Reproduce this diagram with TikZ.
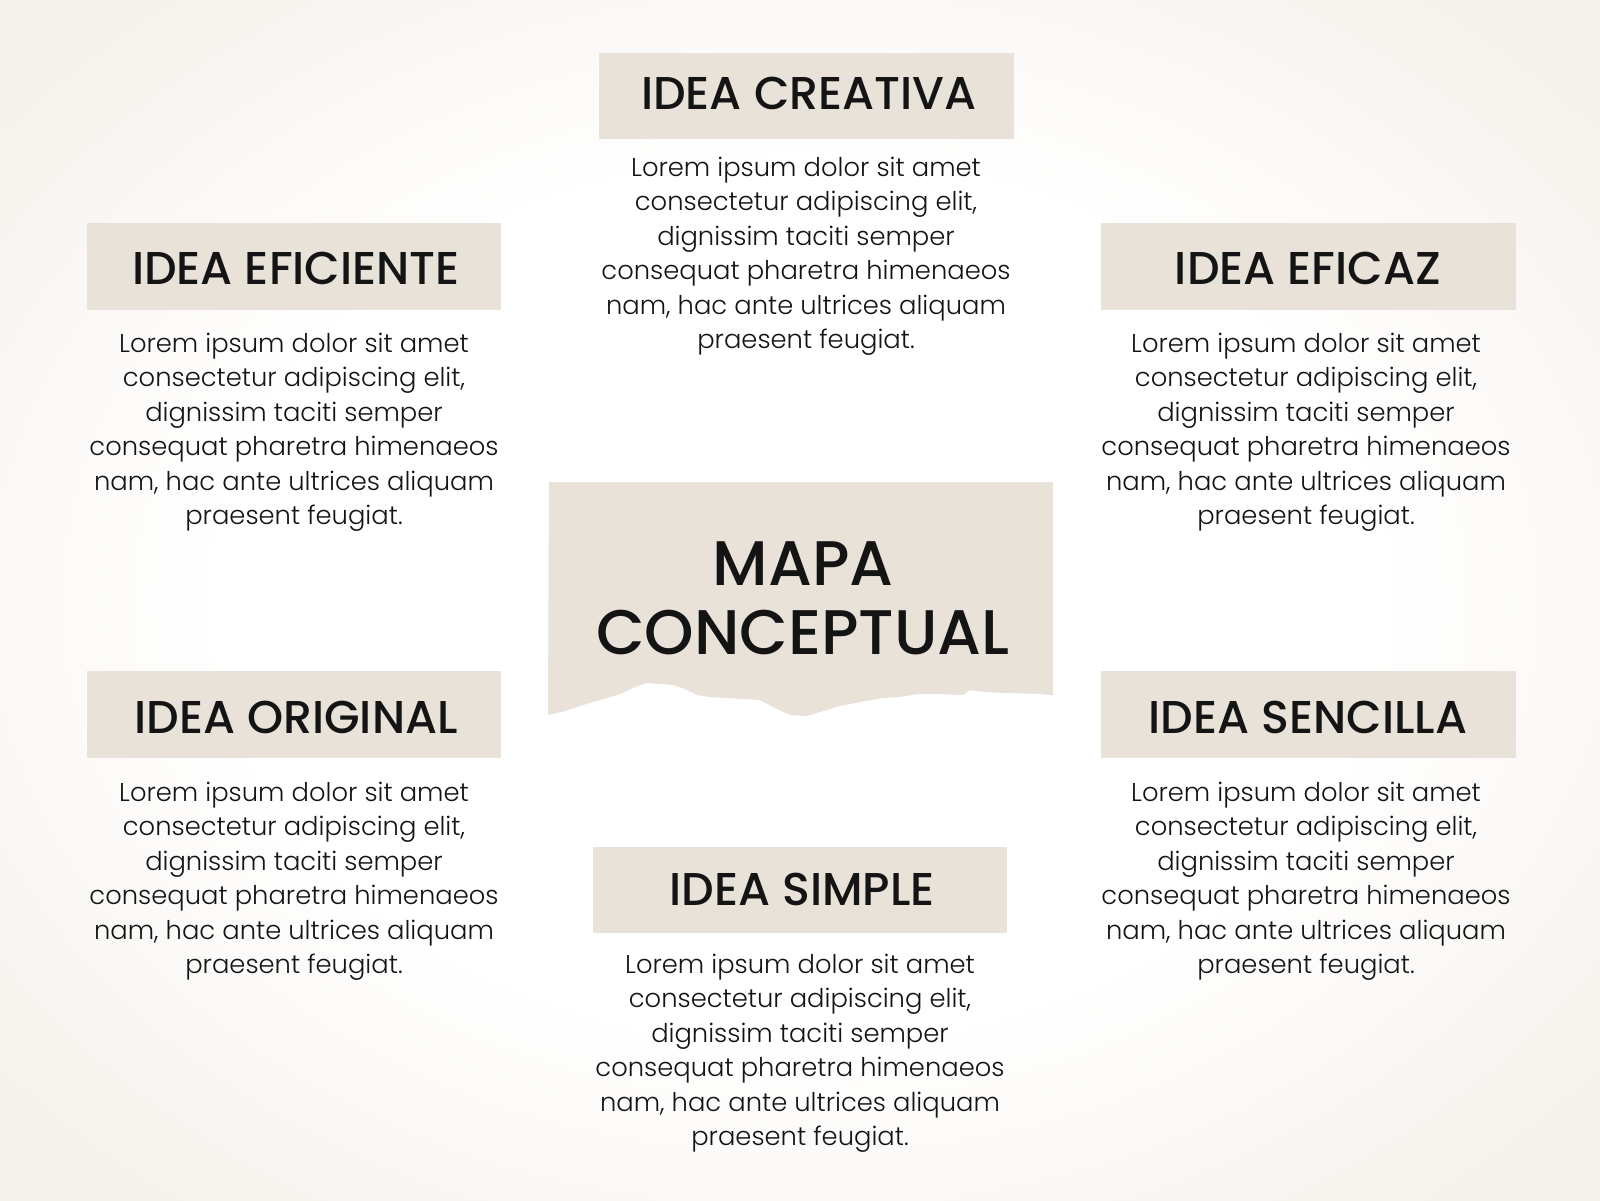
\documentclass[tikz,border=0pt]{standalone}
\usepackage{fontspec}
\setmainfont{Poppins}[UprightFont=* Light]
\newfontfamily\headfont{Poppins}[UprightFont=* Medium]
\definecolor{bgout}{HTML}{E6DCCE}
\definecolor{paper}{HTML}{E8E2D8}
\definecolor{ink}{HTML}{141414}
\pgfdeclareradialshading{bgshade}{\pgfpoint{0bp}{0bp}}{color(0bp)=(white); color(18bp)=(white); color(32bp)=(bgout!35!white); color(48bp)=(bgout!65!white); color(70bp)=(bgout)}
\tikzset{
  paperbox/.style={fill=paper, draw=none},
  headtxt/.style={font=\headfont\fontsize{46}{50}\selectfont, text=ink, inner sep=0pt},
  bodytxt/.style={font=\fontsize{25.8}{34.5}\selectfont, text=ink, align=center, inner sep=0pt},
  centertxt/.style={font=\headfont\fontsize{63}{69}\selectfont, text=ink, align=center, inner sep=0pt}
}
\newcommand{\lorem}{Lorem ipsum dolor sit amet\\consectetur adipiscing elit,\\dignissim taciti semper\\consequat pharetra himenaeos\\nam, hac ante ultrices aliquam\\praesent feugiat.}
\begin{document}
\begin{tikzpicture}[x=1pt,y=-1pt]
\shade[shading=bgshade] (0,0) rectangle (1600,1200);
\useasboundingbox (0,0) rectangle (1600,1200);
% boxes
\fill[paperbox] (599,53) rectangle (1014,139);
\fill[paperbox] (87,223) rectangle (501,310);
\fill[paperbox] (1101,223) rectangle (1516,310);
\fill[paperbox] (87,671) rectangle (501,758);
\fill[paperbox] (1101,671) rectangle (1516,758);
\fill[paperbox] (593,847) rectangle (1007,933);
% central torn paper
\fill[paperbox] (549,482) -- (1053,482) -- (1053,695) -- (1040,694) -- (1007,693) -- (985,692) -- (970,690) -- (963,695) -- (940,694) -- (917,694) -- (900,697) -- (883,698) -- (860,702) -- (840,706) -- (820,712) -- (807,716) -- (790,715) -- (775,708) -- (760,700) -- (745,699) -- (727,698) -- (710,697) -- (697,695) -- (685,689) -- (673,685) -- (660,684) -- (647,683) -- (635,687) -- (620,694) -- (600,700) -- (580,706) -- (565,711) -- (548,715) -- cycle;
% texts
\node[centertxt] (center) at (803,598) {MAPA\\CONCEPTUAL};
\node[headtxt] (h1) at (809,93) {IDEA CREATIVA};
\node[headtxt] (h2) at (296,268) {IDEA EFICIENTE};
\node[headtxt] (h3) at (1308,268) {IDEA EFICAZ};
\node[headtxt] (h4) at (296,717) {IDEA ORIGINAL};
\node[headtxt] (h5) at (1308,717) {IDEA SENCILLA};
\node[headtxt] (h6) at (802,889) {IDEA SIMPLE};
\node[bodytxt] (b1) at (806,256) {\lorem};
\node[bodytxt] (b2) at (294,432) {\lorem};
\node[bodytxt] (b3) at (1306,432) {\lorem};
\node[bodytxt] (b4) at (294,881) {\lorem};
\node[bodytxt] (b5) at (1306,881) {\lorem};
\node[bodytxt] (b6) at (800,1053) {\lorem};
\end{tikzpicture}
\end{document}
